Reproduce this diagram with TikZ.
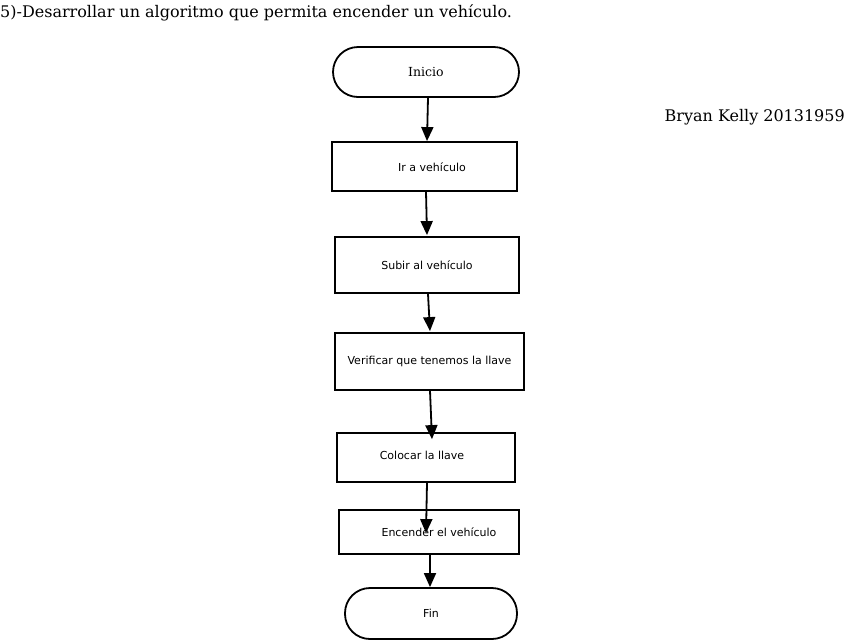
\documentclass[tikz,border=0pt]{standalone}
\usepackage{fontspec}
\setmainfont{DejaVu Serif}
\newfontfamily\boxfont{DejaVu Sans}
\usetikzlibrary{arrows.meta,calc}
\begin{document}
\begin{tikzpicture}[x=1pt,y=-1pt,
  every node/.style={inner sep=0pt},
  btext/.style={font=\boxfont\fontsize{11}{13}\selectfont},
  proc/.style={draw,line width=1.8pt,btext},
  term/.style={draw,line width=1.8pt,rounded corners=25pt},
  conn/.style={line width=1.8pt,-{Triangle[length=14pt,width=12pt]}}]
\useasboundingbox (0,0) rectangle (846,641);
\node[anchor=base west,font=\fontsize{16}{19}\selectfont] (title) at (0,17) {5)-Desarrollar un algoritmo que permita encender un vehículo.};
\node[anchor=base east,font=\fontsize{16}{19}\selectfont] (author) at (845,121) {Bryan Kelly 20131959};
% shapes
\node[term,minimum width=186pt,minimum height=50pt,font=\fontsize{12.5}{15}\selectfont] (ini) at (426,72) {Inicio};
\node[proc,minimum width=185pt,minimum height=49pt] (b1) at (424.5,166.5) {};
\node[btext] (t1) at (432,167) {Ir a vehículo};
\node[proc,minimum width=184pt,minimum height=56pt] (b2) at (427,265) {Subir al vehículo};
\node[proc,minimum width=189pt,minimum height=57pt] (b3) at (429.5,361.5) {Verificar que tenemos la llave};
\node[proc,minimum width=178pt,minimum height=49pt] (b4) at (426,457.5) {};
\node[btext] (t4) at (422,455) {Colocar la llave};
\node[proc,minimum width=180pt,minimum height=44pt] (b5) at (429,532) {};
\node[btext] (t5) at (439,532) {Encender el vehículo};
\node[term,minimum width=172pt,minimum height=51pt,btext] (fin) at (431,613.5) {Fin};
% connectors
\draw[conn] ($(ini.south)+(2,0)$) -- ($(b1.north)+(2.5,0)$);
\draw[conn] ($(b1.south)+(1.5,0)$) -- ($(b2.north)+(0,-1)$);
\draw[conn] ($(b2.south)+(1,0)$) -- ($(b3.north)+(0.5,-1)$);
\draw[conn] ($(b3.south)+(0.5,0)$) -- ($(b4.north)+(6,7)$);
\draw[conn] ($(b4.south)+(1,0)$) -- ($(b5.north)+(-3,24)$);
\draw[conn] ($(b5.south)+(1,0)$) -- ($(fin.north)+(-1,0)$);
\end{tikzpicture}
\end{document}
